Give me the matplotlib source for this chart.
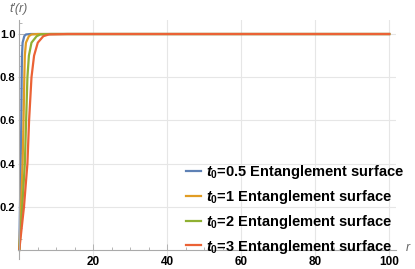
import matplotlib
matplotlib.use("Agg")
import matplotlib.pyplot as plt
from matplotlib.ticker import MultipleLocator

plt.rcParams['font.family'] = ['Liberation Sans', 'DejaVu Sans']
plt.rcParams['mathtext.fontset'] = 'custom'
plt.rcParams['mathtext.rm'] = 'Liberation Sans:bold'
plt.rcParams['mathtext.it'] = 'Liberation Sans:italic:bold'

t_prime = [0, 0.2, 0.4, 0.6, 0.8, 0.9, 0.96, 0.99, 0.998, 1.0, 1.0]
r_t05 = [0, 0.19, 0.37, 0.55, 0.65, 0.73, 0.9, 1.35, 1.8, 3.0, 100]
r_t1 = [0, 0.46, 0.9, 1.15, 1.36, 1.5, 1.8, 2.6, 3.3, 5.0, 100]
r_t2 = [0, 0.8, 1.5, 1.85, 2.2, 2.6, 3.3, 4.7, 5.7, 8.5, 100]
r_t3 = [0, 1.27, 2.2, 2.65, 3.3, 4.0, 5.0, 6.5, 8.0, 13.0, 100]

labels = [r"$t_0$=0.5 Entanglement surface", r"$t_0$=1 Entanglement surface",
          r"$t_0$=2 Entanglement surface", r"$t_0$=3 Entanglement surface"]
colors = ["#5E81B5", "#E19C24", "#8FB032", "#EB6235"]

fig = plt.figure(figsize=(4.15, 2.69), dpi=100)
ax = fig.add_axes([0.0429, 0.0387, 0.911, 0.887])

for r, lab, c in zip([r_t05, r_t1, r_t2, r_t3], labels, colors):
    ax.plot(r, t_prime, color=c, lw=1.6, label=lab, solid_joinstyle='round')

ax.set_xlim(-0.4, 101.8)
ax.set_ylim(-0.04, 1.065)

for side in ['top', 'right']:
    ax.spines[side].set_visible(False)
ax.spines['left'].set_position(('data', 0))
ax.spines['bottom'].set_position(('data', 0))
for side in ['left', 'bottom']:
    ax.spines[side].set_color('#aaaaaa')
    ax.spines[side].set_linewidth(0.8)

ax.xaxis.set_minor_locator(MultipleLocator(5))
ax.yaxis.set_minor_locator(MultipleLocator(0.05))
ax.set_xticks([20, 40, 60, 80, 100])
ax.set_yticks([0.2, 0.4, 0.6, 0.8, 1.0])
ax.set_yticklabels(['0.2', '0.4', '0.6', '0.8', '1.0'])

ax.tick_params(which='both', direction='in', color='#aaaaaa', width=0.6)
ax.tick_params(which='major', length=4)
ax.tick_params(which='minor', length=2.3)
ax.tick_params(axis='x', pad=4.5, labelsize=8.5)
ax.tick_params(axis='y', pad=2.8, labelsize=8)
for t in ax.get_xticklabels() + ax.get_yticklabels():
    t.set_fontweight('bold')

ax.grid(True, which='major', color='#e6e6e6', lw=0.8)
ax.set_axisbelow(True)

fig.text(9 / 415, 1 - 9 / 269, "t\u2032(r)", style='italic', color='#666666',
         fontsize=9, va='center', ha='left')
fig.text(406 / 415, 1 - 248 / 269, "r", style='italic', color='#666666',
         fontsize=9, va='center', ha='left')

leg = ax.legend(loc='lower left', bbox_to_anchor=(186 / 415, 0.05),
                bbox_transform=fig.transFigure, frameon=False,
                prop={'weight': 'bold', 'size': 10.5}, handlelength=1.0,
                handletextpad=0.35, labelspacing=0.47, borderpad=0,
                borderaxespad=0)

fig.savefig("out.png", dpi=100)
